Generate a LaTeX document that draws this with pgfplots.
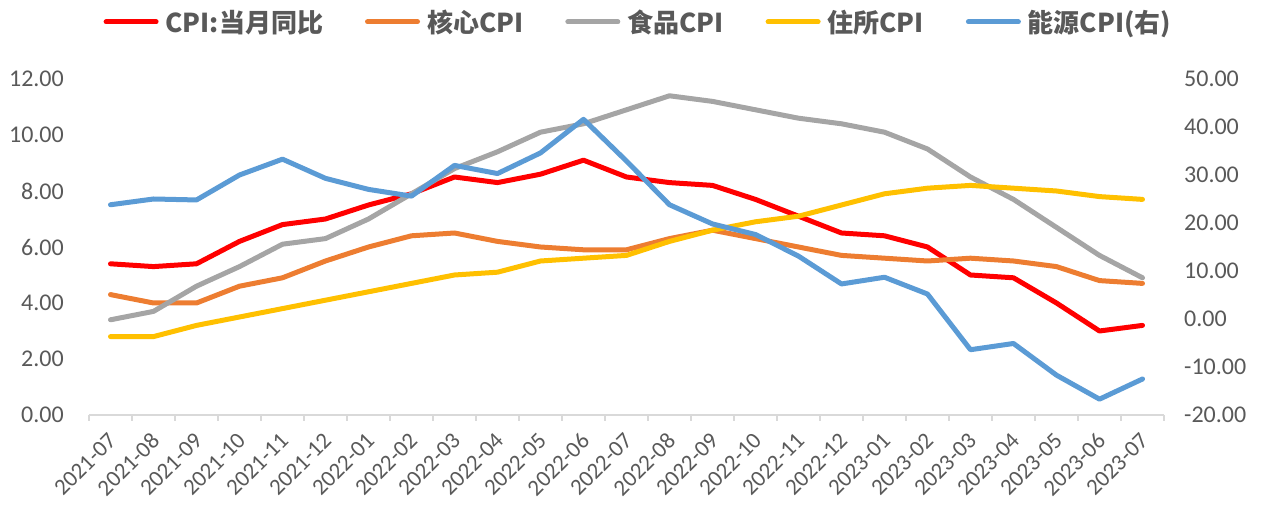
\documentclass[border=0pt]{standalone}
\usepackage{fontspec}
\setmainfont{Noto Sans CJK SC}
\newfontfamily\tickfont{Carlito}
\usepackage{pgfplots}
\pgfplotsset{compat=1.18}
\definecolor{cred}{HTML}{FF0000}
\definecolor{corange}{HTML}{ED7D31}
\definecolor{cgray}{HTML}{A5A5A5}
\definecolor{cyellow}{HTML}{FFC000}
\definecolor{cblue}{HTML}{5B9BD5}
\definecolor{axisgray}{HTML}{D9D9D9}
\definecolor{txtgray}{HTML}{595959}
\pgfplotstableread{
x cpi core food shelter energy
0 5.4 4.3 3.4 2.8 23.8
1 5.3 4.0 3.7 2.8 25.0
2 5.4 4.0 4.6 3.2 24.8
3 6.2 4.6 5.3 3.5 30.0
4 6.8 4.9 6.1 3.8 33.3
5 7.0 5.5 6.3 4.1 29.3
6 7.5 6.0 7.0 4.4 27.0
7 7.9 6.4 7.9 4.7 25.6
8 8.5 6.5 8.8 5.0 32.0
9 8.3 6.2 9.4 5.1 30.3
10 8.6 6.0 10.1 5.5 34.6
11 9.1 5.9 10.4 5.6 41.6
12 8.5 5.9 10.9 5.7 32.9
13 8.3 6.3 11.4 6.2 23.8
14 8.2 6.6 11.2 6.6 19.8
15 7.7 6.3 10.9 6.9 17.6
16 7.1 6.0 10.6 7.1 13.1
17 6.5 5.7 10.4 7.5 7.3
18 6.4 5.6 10.1 7.9 8.7
19 6.0 5.5 9.5 8.1 5.2
20 5.0 5.6 8.5 8.2 -6.4
21 4.9 5.5 7.7 8.1 -5.1
22 4.0 5.3 6.7 8.0 -11.7
23 3.0 4.8 5.7 7.8 -16.7
24 3.2 4.7 4.9 7.7 -12.5
}\datatable
\pgfplotsset{
  common/.style={
    at={(0,0)}, anchor=south west,
    scale only axis, width=1075pt, height=336pt,
    xmin=-0.5, xmax=24.5,
    major tick length=0pt,
    /pgf/number format/.cd, fixed, fixed zerofill, precision=2, assume math mode=true,
    /pgfplots/.cd,
    every axis plot/.append style={line width=5pt, line join=round, line cap=round},
  },
}
\begin{document}
\begin{tikzpicture}
\useasboundingbox (-89pt,-95pt) rectangle (1174pt,415pt);
\begin{axis}[common,
  ymin=0, ymax=12, ytick={0,2,...,12},
  xtick={0,...,24},
  xticklabels={2021-07,2021-08,2021-09,2021-10,2021-11,2021-12,2022-01,2022-02,2022-03,2022-04,2022-05,2022-06,2022-07,2022-08,2022-09,2022-10,2022-11,2022-12,2023-01,2023-02,2023-03,2023-04,2023-05,2023-06,2023-07},
  minor xtick={-0.5,0.5,...,24.5},
  minor tick length=6pt, tick align=outside,
  minor tick style={draw=axisgray, line width=1.5pt},
  axis x line*=bottom, axis y line*=left,
  x axis line style={draw=axisgray, line width=1.5pt, -},
  y axis line style={draw=none},
  xticklabel style={xshift=2pt, yshift=-22pt, rotate=45, anchor=east, inner sep=0pt, font=\tickfont\fontsize{23}{25}\selectfont, text=txtgray},
  yticklabel style={anchor=east, inner sep=0pt, xshift=-25pt, font=\tickfont\fontsize{24}{26}\selectfont, text=txtgray},
  legend style={at={(0.511,1.17)}, anchor=center, draw=none, fill=none,
    font=\fontsize{26}{28}\selectfont\bfseries, text=txtgray,
    legend columns=5,
    /tikz/every odd column/.append style={column sep=5pt},
    /tikz/every even column/.append style={column sep=40pt}},
  legend image code/.code={\draw[#1, line cap=round] (0pt,0pt) -- (50pt,0pt);},
]
\addplot[cred, mark=none] table[x=x, y=cpi] {\datatable};
\addlegendentry{CPI:当月同比}
\addplot[corange, mark=none] table[x=x, y=core] {\datatable};
\addlegendentry{核心CPI}
\addplot[cgray, mark=none] table[x=x, y=food] {\datatable};
\addlegendentry{食品CPI}
\addplot[cyellow, mark=none] table[x=x, y=shelter] {\datatable};
\addlegendentry{住所CPI}
\addlegendimage{cblue, line width=5pt}
\addlegendentry{能源CPI(右)}
\end{axis}
\begin{axis}[common,
  ymin=-20, ymax=50, ytick={-20,-10,...,50},
  axis x line=none, axis y line*=right,
  y axis line style={draw=none},
  yticklabel style={anchor=west, inner sep=0pt, xshift=20pt, font=\tickfont\fontsize{24}{26}\selectfont, text=txtgray},
]
\addplot[cblue, mark=none] table[x=x, y=energy] {\datatable};
\end{axis}
\end{tikzpicture}
\end{document}
